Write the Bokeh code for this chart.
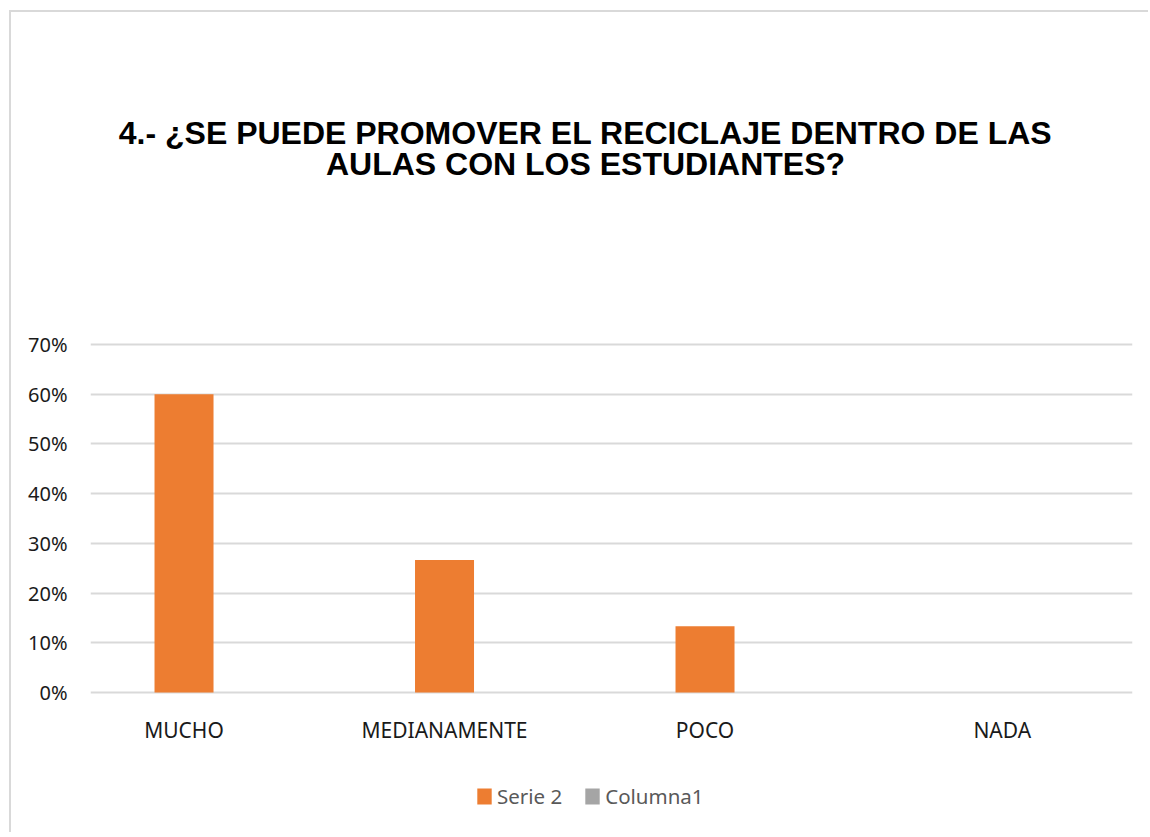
from bokeh.plotting import figure
from bokeh.models import Range1d, FixedTicker, NumeralTickFormatter, Legend, LegendItem, ColumnDataSource
from bokeh.core.properties import value
from bokeh.embed import file_html
from bokeh.resources import INLINE

# ---- data ----
categories = ["MUCHO", "MEDIANAMENTE", "POCO", "NADA"]
serie2 = [0.60, 0.2667, 0.1333, 0.0]
columna1 = [0.0, 0.0, 0.0, 0.0]
y_ticks = [0.0, 0.1, 0.2, 0.3, 0.4, 0.5, 0.6, 0.7]
title_lines = ["4.- ¿SE PUEDE PROMOVER EL RECICLAJE DENTRO DE LAS",
               "AULAS CON LOS ESTUDIANTES?"]

# ---- layout constants (pixels) ----
W, H = 1139, 822
FRAME_L, FRAME_R = 79, 18          # left/right borders around the frame
Y0_PX, Y70_PX = 680, 332           # canvas y of 0% and 70%
BAR_W = 0.2265                     # in category units
OFF1 = 0.359
OFF2 = OFF1 + BAR_W
TXT = "Noto Sans"
XLAB_DY = 37                       # px below 0% line
TITLE_Y = [120.5, 151]             # canvas y of the two title lines
TITLE_X_PX = 495                   # px from frame left
LEGEND_Y = 798                     # canvas y of legend bottom

ppu = (Y0_PX - Y70_PX) / 0.7       # pixels per y unit
y_top = 0.7 + Y70_PX / ppu
y_bot = -(H - Y0_PX) / ppu
ncat = len(categories)
frame_w = W - FRAME_L - FRAME_R
cat_px = frame_w / ncat

def ydata(px):
    return (Y0_PX - px) / ppu

p = figure(width=W, height=H, output_backend="svg", toolbar_location=None,
           x_range=Range1d(0, ncat), y_range=Range1d(y_bot, y_top),
           x_axis_location=None,
           min_border_left=FRAME_L, min_border_right=FRAME_R, min_border_top=0, min_border_bottom=0)
p.styles = {"position": "absolute", "left": "9px", "top": "10px",
            "border-top": "2px solid #d9d9d9", "border-left": "2px solid #d9d9d9"}
p.outline_line_color = None
p.background_fill_color = "white"
p.border_fill_color = "white"

x1 = [i + OFF1 for i in range(ncat)]
x2 = [i + OFF2 for i in range(ncat)]
src = ColumnDataSource(dict(x1=x1, x2=x2, s2=serie2, c1=columna1))
r1 = p.vbar(x="x1", top="s2", width=BAR_W, source=src, fill_color="#ED7D31", line_color=None)
r2 = p.vbar(x="x2", top="c1", width=BAR_W, source=src, fill_color="#A5A5A5", line_color=None)

# y axis
p.yaxis.ticker = FixedTicker(ticks=y_ticks)
p.yaxis.formatter = NumeralTickFormatter(format="0%")
p.yaxis.axis_line_color = None
p.yaxis.major_tick_line_color = None
p.yaxis.minor_tick_line_color = None
p.yaxis.major_tick_out = 0
p.yaxis.major_label_standoff = 23
p.yaxis.major_label_text_font = TXT
p.yaxis.major_label_text_font_size = "20px"
p.yaxis.major_label_text_color = "#1a1a1a"

p.xgrid.grid_line_color = None
p.ygrid.ticker = FixedTicker(ticks=y_ticks)
p.ygrid.grid_line_color = "#d9d9d9"
p.ygrid.grid_line_width = 2

# category labels under the bars
xl = [i + OFF1 if v > 0 else i + 0.5 for i, v in enumerate(serie2)]
lab_src = ColumnDataSource(dict(x=xl, y=[ydata(Y0_PX + XLAB_DY)] * ncat, t=categories))
p.text(x="x", y="y", text="t", source=lab_src, text_align="center", text_baseline="middle",
       text_font=value(TXT), text_font_size="21px", text_color="#1a1a1a")

# title
tx = TITLE_X_PX / cat_px
p.text(x=[tx, tx], y=[ydata(v) for v in TITLE_Y], text=title_lines,
       text_align="center", text_baseline="middle",
       text_font=value("Liberation Sans"), text_font_style="bold",
       text_font_size="32px", text_color="black")

# legend
legend = Legend(items=[LegendItem(label="Serie 2", renderers=[r1]),
                       LegendItem(label="Columna1", renderers=[r2])],
                orientation="horizontal", location=(385, H - LEGEND_Y),
                glyph_width=18, glyph_height=20, label_standoff=4, spacing=21,
                label_text_font=TXT, label_text_font_size="20.5px", label_text_color="#595959",
                border_line_color=None, background_fill_alpha=0, padding=0, margin=0)
p.add_layout(legend, "center")

open("out.html", "w").write(file_html(p, INLINE))
